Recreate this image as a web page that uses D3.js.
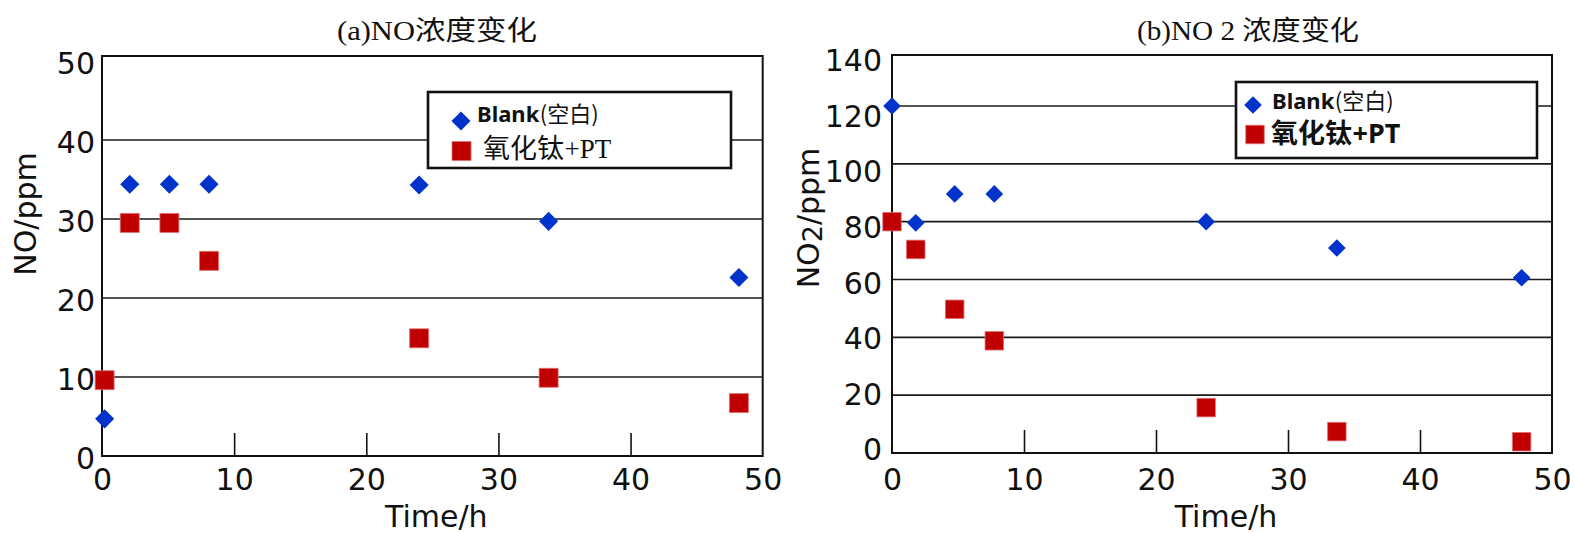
<!DOCTYPE html>
<html><head><meta charset="utf-8">
<script src="https://cdn.jsdelivr.net/npm/d3@7"></script>
<style>body{margin:0;background:#fff}</style>
</head><body><svg id="c" width="1574" height="533"></svg>
<script>
// ---- data ----
const timesA = [0.2, 2.1, 5.1, 8.1, 24.0, 33.8, 48.2];
const blankA = [4.7, 34.4, 34.4, 34.4, 34.3, 29.7, 22.6];
const tioA   = [9.6, 29.5, 29.5, 24.7, 14.9, 9.9, 6.7];

const timesB = [0.0, 1.8, 4.75, 7.75, 23.8, 33.7, 47.7];
const blankB = [120, 79.6, 89.6, 89.6, 80.0, 70.9, 60.6];
const tioB   = [80, 70.4, 49.7, 38.8, 15.7, 7.4, 3.9];

const xTicks  = [0, 10, 20, 30, 40, 50];
const yTicksA = [0, 10, 20, 30, 40, 50];
const yTicksB = [0, 20, 40, 60, 80, 100, 120, 140];
const titleA = "(a)NO浓度变化";
const titleB = "(b)NO 2 浓度变化";
const legendBlank = ["Blank", "(空白)"];
const legendTio = ["氧化钛", "+PT"];
const xLabel = "Time/h";

const BLUE = "#0033cc", RED = "#c00000";
const svg = d3.select("#c");
svg.append("rect").attr("width",1574).attr("height",533).attr("fill","#fff");

const panels = [
  {times: timesA, blank: blankA, tio: tioA, yTicks: yTicksA, grid: [10,20,30,40],
   xr: [102, 762.7], yd: [0,50], yr: [456, 61], frameTop: 56,
   ld: [0,50], lr: [458, 63], lpad: 7,
   title: titleA, titleX: 437, titleLen: 200,
   ylab: "NO/ppm", ylabX: 36, ylabY: 214,
   leg: {x:428, y:92, w:303, h:76, dx:461, dy:121, sx:461.5, sy:151, t1x:477, t1y:122, t2x:483, t2y:158, serif:true},
   dSide: 13.5, sSide: 19},
  {times: timesB, blank: blankB, tio: tioB, yTicks: yTicksB, grid: [20,40,60,80,100,120],
   xr: [892, 1552], yd: [0,120], yr: [453, 106], frameTop: 55,
   ld: [0,140], lr: [449, 60], lpad: 10,
   title: titleB, titleX: 1248, titleLen: 222,
   ylab: "NO", ylabSub: "2", ylabRest: "/ppm", ylabX: 819, ylabY: 218,
   leg: {x:1236, y:82, w:301, h:76, dx:1253, dy:105, sx:1255, sy:134.5, t1x:1272, t1y:109, t2x:1271, t2y:143, serif:false},
   dSide: 12.5, sSide: 18.5}
];

function pair(g, x, y, size, a, b, weightA, weightB) {
  const ta = g.append("text").attr("x", x).attr("y", y).attr("font-size", size).attr("fill", "#111")
    .attr("font-family", a.font).attr("font-weight", weightA).text(a.text);
  const w = ta.node().getComputedTextLength();
  g.append("text").attr("x", x + w + 0.5).attr("y", y).attr("font-size", size).attr("fill", "#111")
    .attr("font-family", b.font).attr("font-weight", weightB).text(b.text);
}

panels.forEach(p => {
  const x = d3.scaleLinear().domain([0,50]).range(p.xr);
  const y = d3.scaleLinear().domain(p.yd).range(p.yr);
  const yl = d3.scaleLinear().domain(p.ld).range(p.lr);
  const g = svg.append("g");
  const x0 = p.xr[0], x1 = p.xr[1], yb = p.yr[0];

  // gridlines
  g.append("g").selectAll("line").data(p.grid).join("line")
    .attr("x1", x0).attr("x2", x1)
    .attr("y1", d => y(d)).attr("y2", d => y(d))
    .attr("stroke", "#1a1a1a").attr("stroke-width", 1.6);

  // legend box
  const L = p.leg;
  g.append("rect").attr("x", L.x).attr("y", L.y).attr("width", L.w).attr("height", L.h)
    .attr("fill", "#fff").attr("stroke", "#111").attr("stroke-width", 2.6);

  // frame
  g.append("rect").attr("x", x0).attr("y", p.frameTop).attr("width", x1 - x0).attr("height", yb - p.frameTop)
    .attr("fill", "none").attr("stroke", "#111").attr("stroke-width", 2);

  // x inner ticks
  const xt = g.append("g").attr("transform", `translate(0,${yb})`)
    .call(d3.axisBottom(x).tickValues(xTicks.filter(t => t > 0 && t < 50)).tickSize(-23).tickFormat(""));
  xt.select(".domain").remove();
  xt.selectAll("line").attr("stroke", "#111").attr("stroke-width", 1.6);

  // x tick labels
  const xa = g.append("g").attr("transform", `translate(0,${yb})`)
    .call(d3.axisBottom(x).tickValues(xTicks).tickSize(0));
  xa.select(".domain").remove();
  xa.selectAll("text").attr("y", 490 - yb).attr("dy", null)
    .attr("font-family", "DejaVu Sans").attr("font-size", 30).attr("fill", "#111");

  // y tick labels
  const ya = g.append("g").attr("transform", `translate(${x0},0)`)
    .call(d3.axisLeft(yl).tickValues(p.yTicks).tickSize(0).tickPadding(p.lpad));
  ya.select(".domain").remove();
  ya.selectAll("text").attr("dy", "0.36em")
    .attr("font-family", "DejaVu Sans").attr("font-size", 30).attr("fill", "#111");

  // axis titles
  g.append("text").attr("x", (x0 + x1) / 2 + 4).attr("y", 527).attr("text-anchor", "middle")
    .attr("font-family", "DejaVu Sans").attr("font-size", 30).attr("fill", "#111").text(xLabel);
  const yt = g.append("text").attr("transform", `translate(${p.ylabX},${p.ylabY}) rotate(-90)`)
    .attr("text-anchor", "middle").attr("font-family", "DejaVu Sans").attr("font-size", 30).attr("fill", "#111");
  if (p.ylabSub) {
    yt.append("tspan").text(p.ylab);
    yt.append("tspan").attr("font-size", 27).attr("dy", 3).text(p.ylabSub);
    yt.append("tspan").attr("dy", -3).text(p.ylabRest);
  } else yt.text(p.ylab);

  // chart title
  g.append("text").attr("x", p.titleX).attr("y", 40).attr("text-anchor", "middle")
    .attr("font-family", "'Liberation Serif','Noto Sans CJK SC'").attr("font-size", 27)
    .attr("textLength", p.titleLen).attr("lengthAdjust", "spacingAndGlyphs")
    .attr("fill", "#111").text(p.title);

  // points
  const dArea = p.dSide * p.dSide, sArea = p.sSide * p.sSide;
  g.append("g").selectAll("path").data(p.times.map((t, i) => [t, p.blank[i]])).join("path")
    .attr("d", d3.symbol(d3.symbolSquare, dArea))
    .attr("transform", d => `translate(${x(d[0])},${y(d[1])}) rotate(45)`)
    .attr("fill", BLUE);
  g.append("g").selectAll("path").data(p.times.map((t, i) => [t, p.tio[i]])).join("path")
    .attr("d", d3.symbol(d3.symbolSquare, sArea))
    .attr("transform", d => `translate(${x(d[0])},${y(d[1])})`)
    .attr("fill", RED).attr("stroke", "#e07070").attr("stroke-width", 0.8);

  // legend entries
  g.append("path").attr("d", d3.symbol(d3.symbolSquare, dArea))
    .attr("transform", `translate(${L.dx},${L.dy}) rotate(45)`).attr("fill", BLUE);
  g.append("path").attr("d", d3.symbol(d3.symbolSquare, sArea))
    .attr("transform", `translate(${L.sx},${L.sy})`).attr("fill", RED).attr("stroke", "#e07070").attr("stroke-width", 0.8);
  pair(g, L.t1x, L.t1y, 22, {font: "'Noto Sans'", text: legendBlank[0]}, {font: "'Noto Sans CJK SC'", text: legendBlank[1]}, "bold", "normal");
  if (L.serif) {
    pair(g, L.t2x, L.t2y, 27, {font: "'Noto Sans CJK SC'", text: legendTio[0]}, {font: "'Liberation Serif'", text: legendTio[1]}, "normal", "normal");
  } else {
    pair(g, L.t2x, L.t2y, 27, {font: "'Noto Sans CJK SC'", text: legendTio[0]}, {font: "'Noto Sans'", text: legendTio[1]}, "bold", "bold");
  }
});
</script></body></html>
